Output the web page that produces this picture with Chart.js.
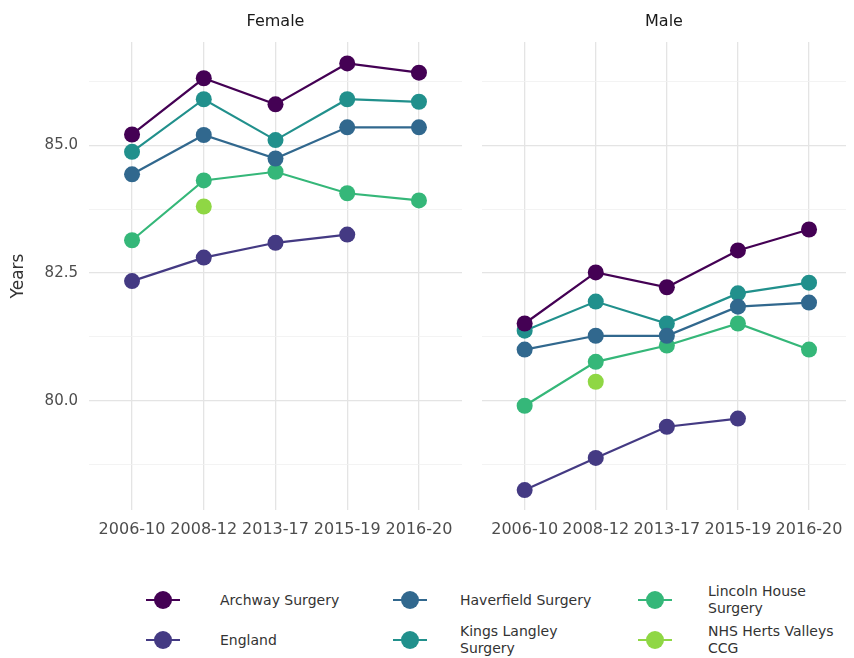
<!DOCTYPE html>
<html>
<head>
<meta charset="utf-8">
<script src="https://cdn.jsdelivr.net/npm/chart.js@4"></script>
<style>
  html, body { margin: 0; padding: 0; background: #fff; }
  body { width: 854px; height: 658px; overflow: hidden; position: relative; font-family: 'DejaVu Sans', sans-serif; }
  #wrapF { position: absolute; left: 0; top: 0; width: 470px; height: 548px; }
  #wrapM { position: absolute; left: 470px; top: 0; width: 384px; height: 548px; }
  .key { position: absolute; width: 34px; height: 20px; }
  .key .ln { position: absolute; left: 0; right: 0; top: 9px; height: 2px; }
  .key .pt { position: absolute; left: 8px; top: 1px; width: 18px; height: 18px; border-radius: 50%; }
  .lab { position: absolute; width: 140px; font-size: 14px; line-height: 17px; color: #333; }
</style>
</head>
<body>
<div id="wrapF"><canvas id="female"></canvas></div>
<div id="wrapM"><canvas id="male"></canvas></div>
<div id="legend"></div>
<script>
// periods on the x axis
const periods = ['2006-10', '2008-12', '2013-17', '2015-19', '2016-20'];
const seriesNames = ['Archway Surgery', 'England', 'Haverfield Surgery', 'Kings Langley Surgery', 'Lincoln House Surgery', 'NHS Herts Valleys CCG'];
const seriesColors = ['#440154', '#443a83', '#31688e', '#21908c', '#35b779', '#8fd744'];

// life expectancy, female
const femaleArchway = [85.21, 86.31, 85.80, 86.60, 86.42];
const femaleEngland = [82.34, 82.80, 83.09, 83.25, null];
const femaleHaverfield = [84.43, 85.20, 84.74, 85.35, 85.35];
const femaleKings = [84.87, 85.90, 85.10, 85.90, 85.85];
const femaleLincoln = [83.14, 84.31, 84.48, 84.06, 83.92];
const femaleCCG = [null, 83.80, null, null, null];

// life expectancy, male
const maleArchway = [81.51, 82.51, 82.22, 82.94, 83.35];
const maleEngland = [78.25, 78.88, 79.49, 79.65, null];
const maleHaverfield = [81.00, 81.27, 81.27, 81.84, 81.92];
const maleKings = [81.37, 81.94, 81.51, 82.10, 82.31];
const maleLincoln = [79.90, 80.76, 81.08, 81.51, 81.00];
const maleCCG = [null, 80.37, null, null, null];

// y axis grid and labels
const yGridValues = [78.75, 80, 81.25, 82.5, 83.75, 85, 86.25];
const yTickLabels = ['', '80.0', '', '82.5', '', '85.0', ''];

Chart.defaults.font.family = "'DejaVu Sans', sans-serif";
Chart.defaults.animation = false;

function makeSets(list) {
  return list.map((vals, i) => ({
    label: seriesNames[i],
    data: vals.map((v, k) => ({ x: k, y: v })),
    borderColor: seriesColors[i],
    backgroundColor: seriesColors[i],
    pointBackgroundColor: seriesColors[i],
    pointBorderWidth: 0,
    pointRadius: 8,
    borderWidth: 2.2,
    spanGaps: false
  }));
}

// the male panel is cut by the right edge of the picture, so its x range ends early
function makeChart(id, title, sets, showY, xMax) {
  return new Chart(document.getElementById(id), {
    type: 'line',
    data: { datasets: makeSets(sets) },
    options: {
      responsive: true,
      maintainAspectRatio: false,
      layout: { padding: { left: 0, right: showY ? 2 : 0, top: 0, bottom: 0 } },
      plugins: {
        legend: { display: false },
        tooltip: { enabled: false },
        title: {
          display: true, text: title, fullSize: false, color: '#1a1a1a',
          font: { size: 16, weight: 'normal' }, padding: { top: 12, bottom: 10.8 }
        }
      },
      scales: {
        x: {
          type: 'linear', min: -0.6, max: xMax,
          afterBuildTicks: s => { s.ticks = periods.map((p, i) => ({ value: i })); },
          afterFit: s => { s.height = 38; },
          ticks: {
            autoSkip: false, maxRotation: 0, padding: 10, color: '#4d4d4d',
            font: { size: 16 },
            callback: v => periods[v]
          },
          grid: { color: '#e4e4e4', lineWidth: 1.3, drawTicks: false },
          border: { display: false }
        },
        y: {
          min: 77.86, max: 87.02,
          afterBuildTicks: s => { s.ticks = yGridValues.map(v => ({ value: v })); },
          afterFit: s => { s.width = showY ? 89 : 12; },
          ticks: {
            display: showY, padding: 11, color: '#4d4d4d', font: { size: 15 },
            callback: (v, i) => yTickLabels[i]
          },
          title: {
            display: showY, text: 'Years', color: '#333', font: { size: 17 },
            padding: { top: 8, bottom: 0 }
          },
          grid: {
            color: ctx => yTickLabels[ctx.index] ? '#e4e4e4' : '#f0f0f0',
            lineWidth: ctx => yTickLabels[ctx.index] ? 1.3 : 0.8,
            drawTicks: false
          },
          border: { display: false }
        }
      }
    }
  });
}

makeChart('female', 'Female', [femaleArchway, femaleEngland, femaleHaverfield, femaleKings, femaleLincoln, femaleCCG], true, 4.6);
makeChart('male', 'Male', [maleArchway, maleEngland, maleHaverfield, maleKings, maleLincoln, maleCCG], false, 4.52);

// legend, 3 columns x 2 rows, filled column by column
const keyX = [163, 410, 655];
const textX = [220, 460, 708];
const rowY = [600, 640];
const leg = document.getElementById('legend');
seriesNames.forEach((name, i) => {
  const col = Math.floor(i / 2), row = i % 2;
  const key = document.createElement('div');
  key.className = 'key';
  key.style.left = (keyX[col] - 17) + 'px';
  key.style.top = (rowY[row] - 10) + 'px';
  key.innerHTML = '<div class="ln" style="background:' + seriesColors[i] + '"></div><div class="pt" style="background:' + seriesColors[i] + '"></div>';
  leg.appendChild(key);
  const lab = document.createElement('div');
  lab.className = 'lab';
  lab.textContent = name;
  lab.style.left = textX[col] + 'px';
  leg.appendChild(lab);
  const h = lab.offsetHeight;
  lab.style.top = (rowY[row] - h / 2) + 'px';
});
</script>
</body>
</html>
